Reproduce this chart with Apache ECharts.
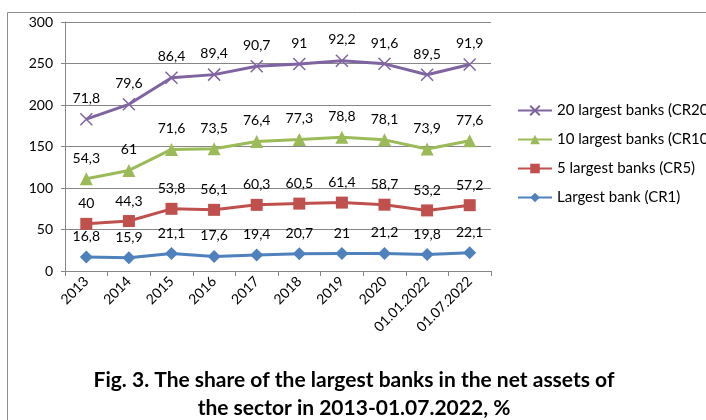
<!DOCTYPE html>
<html><head><meta charset="utf-8">
<script src="https://cdn.jsdelivr.net/npm/echarts@6/dist/echarts.min.js"></script>
<style>html,body{margin:0;padding:0;background:#fff}#c{width:706px;height:420px}</style>
</head><body><div id="c"></div>
<script>
var categories = ['2013','2014','2015','2016','2017','2018','2019','2020','01.01.2022','01.07.2022'];
var cr1 = [16.8,15.9,21.1,17.6,19.4,20.7,21,21.2,19.8,22.1];
var cr5 = [40,44.3,53.8,56.1,60.3,60.5,61.4,58.7,53.2,57.2];
var cr10 = [54.3,61,71.6,73.5,76.4,77.3,78.8,78.1,73.9,77.6];
var cr20 = [71.8,79.6,86.4,89.4,90.7,91,92.2,91.6,89.5,91.9];
var seriesNames = ['Largest bank (CR1)','5 largest banks (CR5)','10 largest banks (CR10)','20 largest banks (CR20)'];
var yTicks = [0,50,100,150,200,250,300];

var FONT = 'Lato';
function fmt(p){ return String(p.value).replace('.', ','); }
function mk(name, data, color, symbol, size, extra){
  var s = {
    name: name, type: 'line', stack: 'total', data: data,
    symbol: symbol, symbolSize: size,
    lineStyle: {width: 3, color: color},
    itemStyle: {color: color},
    label: {show: true, position: 'top', distance: 7, formatter: fmt, color: '#000', fontFamily: FONT, fontSize: 14},
    emphasis: {disabled: true}, animation: false
  };
  if (extra) Object.assign(s.itemStyle, extra);
  return s;
}
var chart = echarts.init(document.getElementById('c'), null, {renderer: 'canvas'});
chart.setOption({
  backgroundColor: '#fff',
  animation: false,
  textStyle: {fontFamily: FONT},
  title: [
    {text: 'Fig. 3. The share of the largest banks in the net assets of', left: 349, top: 365, textAlign: 'center',
     textStyle: {fontFamily: FONT, fontWeight: 'bold', fontSize: 21, color: '#000'}},
    {text: 'the sector in 2013-01.07.2022, %', left: 349, top: 393, textAlign: 'center',
     textStyle: {fontFamily: FONT, fontWeight: 'bold', fontSize: 21, color: '#000'}}
  ],
  graphic: [{type: 'rect', shape: {x: 7.5, y: 12.5, width: 760, height: 460}, style: {fill: 'none', stroke: '#8c8c8c', lineWidth: 1}, silent: true, z: -1}],
  legend: {
    orient: 'vertical', left: 512, top: 98, itemGap: 14, itemWidth: 34, itemHeight: 12,
    data: [seriesNames[3], seriesNames[2], seriesNames[1], seriesNames[0]],
    textStyle: {fontFamily: FONT, fontSize: 15, color: '#000'}
  },
  grid: {left: 65, right: 215, top: 22, bottom: 149, containLabel: false},
  xAxis: {
    type: 'category', data: categories, boundaryGap: true,
    axisLine: {lineStyle: {color: '#868686', width: 1}},
    axisTick: {show: true, length: 5, lineStyle: {color: '#868686'}},
    axisLabel: {rotate: 45, color: '#000', fontFamily: FONT, fontSize: 14, margin: 8, interval: 0}
  },
  yAxis: {
    type: 'value', min: 0, max: 300, interval: 50,
    axisLine: {show: true, lineStyle: {color: '#868686'}},
    axisTick: {show: true, length: 4, lineStyle: {color: '#868686'}},
    splitLine: {lineStyle: {color: '#868686', width: 1}},
    axisLabel: {color: '#000', fontFamily: FONT, fontSize: 14, margin: 12,
      formatter: function(v){ return yTicks.indexOf(v) >= 0 ? String(v) : ''; }}
  },
  series: [
    mk(seriesNames[0], cr1, '#4F81BD', 'diamond', 13),
    mk(seriesNames[1], cr5, '#C0504D', 'rect', 12),
    mk(seriesNames[2], cr10, '#9BBB59', 'triangle', 13),
    mk(seriesNames[3], cr20, '#8064A2', 'path://M0,0 L10,10 M10,0 L0,10', 12, {borderColor: '#8064A2', borderWidth: 1.5})
  ]
});
</script></body></html>
